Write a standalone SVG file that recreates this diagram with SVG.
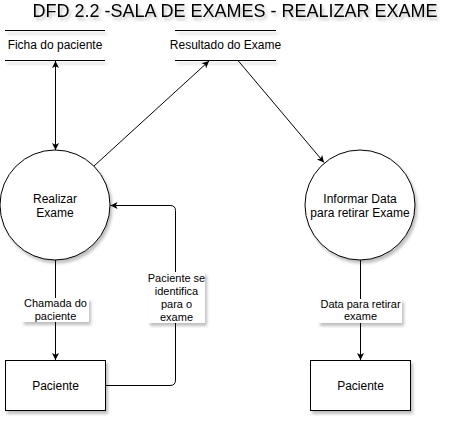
<svg xmlns="http://www.w3.org/2000/svg" width="457" height="422" viewBox="0 0 457 422">
<style>
text{font-family:"Liberation Sans",Arial,Helvetica,sans-serif;fill:#000;text-anchor:middle}
.t{font-size:18px}
.n{font-size:12px}
.l{font-size:11px}
.ln{stroke:#000;stroke-width:1;fill:none}
.box{fill:#fff;stroke:#000;stroke-width:1}
.lbg{fill:#fff}
</style>
<defs>
<filter id="sh" x="-20%" y="-20%" width="140%" height="160%">
<feDropShadow dx="2" dy="3" stdDeviation="1.5" flood-color="#000" flood-opacity="0.25"/>
</filter>
<marker id="ar" markerUnits="userSpaceOnUse" markerWidth="10" markerHeight="10" viewBox="-8 -5 10 10" refX="0" refY="0" orient="auto-start-reverse">
<path d="M0,0 L-7,-3.5 L-5.3,0 L-7,3.5 Z" fill="#000"/>
</marker>
</defs>
<rect width="457" height="422" fill="#fff"/>
<g id="title" filter="url(#sh)"><text class="t" x="235" y="17">DFD 2.2 -SALA DE EXAMES - REALIZAR EXAME</text></g>
<g id="ficha">
<rect x="5" y="30" width="100" height="30" fill="#fff"/>
<g filter="url(#sh)"><path class="ln" d="M5,30.5 H105 M5,60.5 H105"/></g>
<text class="n" x="55" y="49">Ficha do paciente</text>
</g>
<g id="resultado">
<rect x="175" y="30" width="101" height="30" fill="#fff"/>
<g filter="url(#sh)"><path class="ln" d="M175,30.5 H276 M175,60.5 H276"/></g>
<text class="n" x="225.5" y="49">Resultado do Exame</text>
</g>
<g id="realizar">
<circle class="box" cx="55" cy="205" r="55" filter="url(#sh)"/>
<text class="n" x="55" y="203">Realizar</text>
<text class="n" x="55" y="217">Exame</text>
</g>
<g id="informar">
<circle class="box" cx="360" cy="205" r="55" filter="url(#sh)"/>
<text class="n" x="360" y="203">Informar Data</text>
<text class="n" x="360" y="217">para retirar Exame</text>
</g>
<g id="paciente1">
<rect class="box" x="5.5" y="360.5" width="100" height="50" filter="url(#sh)"/>
<text class="n" x="55.5" y="389.5">Paciente</text>
</g>
<g id="paciente2">
<rect class="box" x="310.5" y="360.5" width="100" height="50" filter="url(#sh)"/>
<text class="n" x="360.5" y="389.5">Paciente</text>
</g>
<g id="connectors">
<path class="ln" d="M55.5,61 V150" marker-start="url(#ar)" marker-end="url(#ar)"/>
<path class="ln" d="M94,166 L209,61" marker-end="url(#ar)"/>
<path class="ln" d="M238,60.5 L324,162.5" marker-end="url(#ar)"/>
<path class="ln" d="M55.5,260 V360" marker-end="url(#ar)"/>
<path class="ln" d="M360.5,260 V360" marker-end="url(#ar)"/>
<path class="ln" d="M105.5,385.5 H170 Q175.5,385.5 175.5,380 V210.5 Q175.5,205.5 170,205.5 H110.5" marker-end="url(#ar)"/>
<g id="lbl1">
<rect class="lbg" x="22" y="298" width="67" height="24" filter="url(#sh)"/>
<text class="l" x="55.5" y="307">Chamada do</text>
<text class="l" x="55.5" y="320">paciente</text>
</g>
<g id="lbl2">
<rect class="lbg" x="148" y="272" width="57" height="51" filter="url(#sh)"/>
<text class="l" x="176.5" y="282">Paciente se</text>
<text class="l" x="176.5" y="295">identifica</text>
<text class="l" x="176.5" y="308">para o</text>
<text class="l" x="176.5" y="320.5">exame</text>
</g>
<g id="lbl3">
<rect class="lbg" x="318" y="299" width="84" height="24" filter="url(#sh)"/>
<text class="l" x="360.5" y="308">Data para retirar</text>
<text class="l" x="360.5" y="320">exame</text>
</g>
</g>
</svg>
